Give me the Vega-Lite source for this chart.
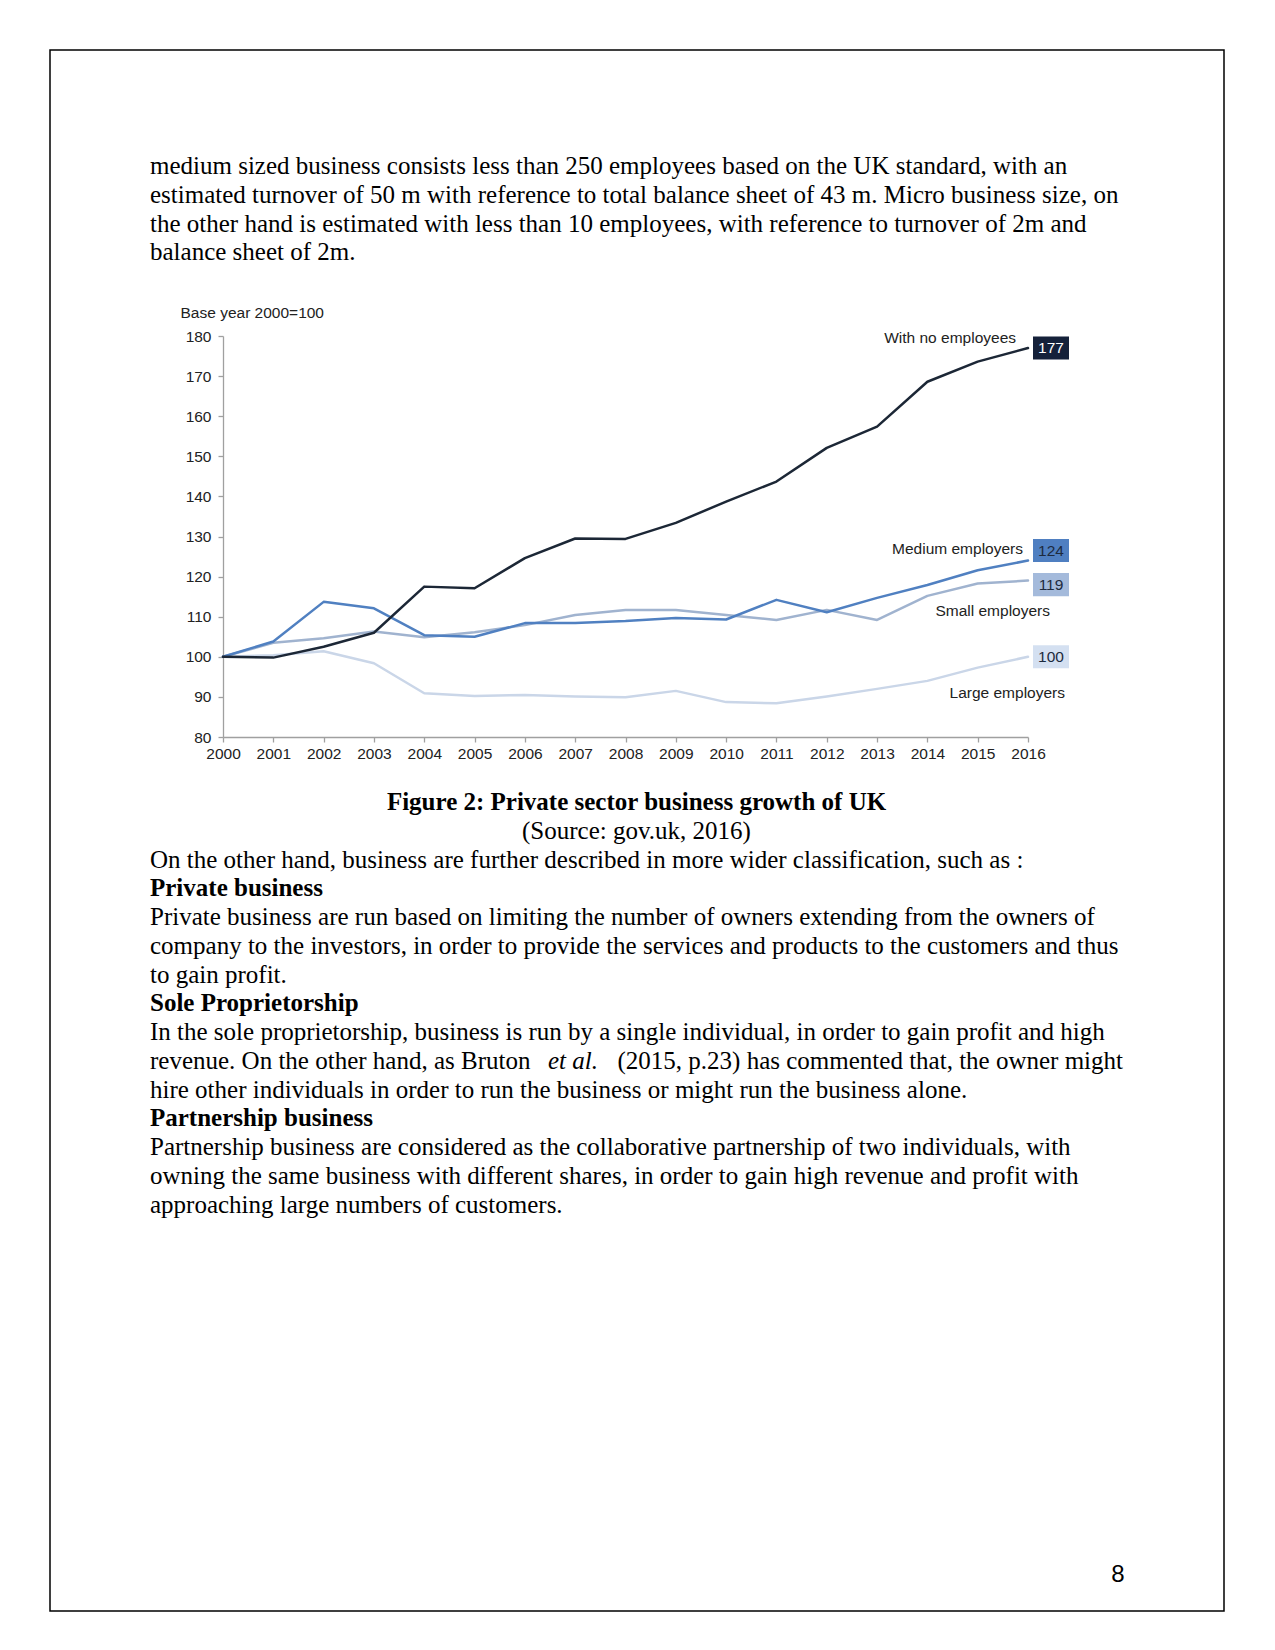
{
  "$schema": "https://vega.github.io/schema/vega-lite/v6.json",
  "width": 1174,
  "height": 1561,
  "autosize": "none",
  "padding": {"left": 50, "top": 50, "right": 51, "bottom": 39},
  "background": "white",
  "config": {"view": {"stroke": "#000000", "strokeWidth": 1.5}},
  "datasets": {
    "growth": [
      {"year": 2000, "series": "large", "value": 100},
      {"year": 2001, "series": "large", "value": 100.4},
      {"year": 2002, "series": "large", "value": 101.4},
      {"year": 2003, "series": "large", "value": 98.4},
      {"year": 2004, "series": "large", "value": 90.9},
      {"year": 2005, "series": "large", "value": 90.2},
      {"year": 2006, "series": "large", "value": 90.5},
      {"year": 2007, "series": "large", "value": 90.1},
      {"year": 2008, "series": "large", "value": 89.9},
      {"year": 2009, "series": "large", "value": 91.5},
      {"year": 2010, "series": "large", "value": 88.7},
      {"year": 2011, "series": "large", "value": 88.4},
      {"year": 2012, "series": "large", "value": 90.1},
      {"year": 2013, "series": "large", "value": 92.0},
      {"year": 2014, "series": "large", "value": 94.0},
      {"year": 2015, "series": "large", "value": 97.3},
      {"year": 2016, "series": "large", "value": 100},
      {"year": 2000, "series": "small", "value": 100},
      {"year": 2001, "series": "small", "value": 103.5},
      {"year": 2002, "series": "small", "value": 104.6},
      {"year": 2003, "series": "small", "value": 106.3},
      {"year": 2004, "series": "small", "value": 104.9},
      {"year": 2005, "series": "small", "value": 106.1},
      {"year": 2006, "series": "small", "value": 107.9},
      {"year": 2007, "series": "small", "value": 110.4},
      {"year": 2008, "series": "small", "value": 111.7},
      {"year": 2009, "series": "small", "value": 111.7},
      {"year": 2010, "series": "small", "value": 110.4},
      {"year": 2011, "series": "small", "value": 109.2},
      {"year": 2012, "series": "small", "value": 111.7},
      {"year": 2013, "series": "small", "value": 109.2},
      {"year": 2014, "series": "small", "value": 115.2},
      {"year": 2015, "series": "small", "value": 118.3},
      {"year": 2016, "series": "small", "value": 119},
      {"year": 2000, "series": "medium", "value": 100},
      {"year": 2001, "series": "medium", "value": 103.8},
      {"year": 2002, "series": "medium", "value": 113.7},
      {"year": 2003, "series": "medium", "value": 112.1},
      {"year": 2004, "series": "medium", "value": 105.4},
      {"year": 2005, "series": "medium", "value": 105.0},
      {"year": 2006, "series": "medium", "value": 108.4},
      {"year": 2007, "series": "medium", "value": 108.4},
      {"year": 2008, "series": "medium", "value": 108.9},
      {"year": 2009, "series": "medium", "value": 109.7},
      {"year": 2010, "series": "medium", "value": 109.3},
      {"year": 2011, "series": "medium", "value": 114.2},
      {"year": 2012, "series": "medium", "value": 111.1},
      {"year": 2013, "series": "medium", "value": 114.7},
      {"year": 2014, "series": "medium", "value": 117.9},
      {"year": 2015, "series": "medium", "value": 121.6},
      {"year": 2016, "series": "medium", "value": 124},
      {"year": 2000, "series": "none", "value": 100},
      {"year": 2001, "series": "none", "value": 99.8},
      {"year": 2002, "series": "none", "value": 102.5},
      {"year": 2003, "series": "none", "value": 106.0},
      {"year": 2004, "series": "none", "value": 117.5},
      {"year": 2005, "series": "none", "value": 117.1},
      {"year": 2006, "series": "none", "value": 124.6},
      {"year": 2007, "series": "none", "value": 129.5},
      {"year": 2008, "series": "none", "value": 129.4},
      {"year": 2009, "series": "none", "value": 133.4},
      {"year": 2010, "series": "none", "value": 138.7},
      {"year": 2011, "series": "none", "value": 143.7},
      {"year": 2012, "series": "none", "value": 152.1},
      {"year": 2013, "series": "none", "value": 157.4},
      {"year": 2014, "series": "none", "value": 168.6},
      {"year": 2015, "series": "none", "value": 173.6},
      {"year": 2016, "series": "none", "value": 177}
    ],
    "names": [
      {"series": "none", "name": "With no employees"},
      {"series": "medium", "name": "Medium employers"},
      {"series": "small", "name": "Small employers"},
      {"series": "large", "name": "Large employers"}
    ],
    "top": [
      {"line": 1, "text": "medium sized business consists less than 250 employees based on the UK standard, with an"},
      {"line": 2, "text": "estimated turnover of 50 m with reference to total balance sheet of 43 m. Micro business size, on"},
      {"line": 3, "text": "the other hand is estimated with less than 10 employees, with reference to turnover of 2m and"},
      {"line": 4, "text": "balance sheet of 2m."}
    ],
    "bottom": [
      {"line": 1, "kind": "figure", "text": "Figure 2: Private sector business growth of UK"},
      {"line": 2, "kind": "source", "text": "(Source: gov.uk, 2016)"},
      {"line": 3, "kind": "para", "text": "On the other hand, business are further described in more wider classification, such as :"},
      {"line": 4, "kind": "heading", "text": "Private business"},
      {"line": 5, "kind": "para", "text": "Private business are run based on limiting the number of owners extending from the owners of"},
      {"line": 6, "kind": "para", "text": "company to the investors, in order to provide the services and products to the customers and thus"},
      {"line": 7, "kind": "para", "text": "to gain profit."},
      {"line": 8, "kind": "heading", "text": "Sole Proprietorship"},
      {"line": 9, "kind": "para", "text": "In the sole proprietorship, business is run by a single individual, in order to gain profit and high"},
      {"line": 10, "kind": "para", "text": "revenue. On the other hand, as Bruton"},
      {"line": 10, "kind": "italic", "text": "et al."},
      {"line": 10, "kind": "tail", "text": "(2015, p.23) has commented that, the owner might"},
      {"line": 11, "kind": "para", "text": "hire other individuals in order to run the business or might run the business alone."},
      {"line": 12, "kind": "heading", "text": "Partnership business"},
      {"line": 13, "kind": "para", "text": "Partnership business are considered as the collaborative partnership of two individuals, with"},
      {"line": 14, "kind": "para", "text": "owning the same business with different shares, in order to gain high revenue and profit with"},
      {"line": 15, "kind": "para", "text": "approaching large numbers of customers."}
    ],
    "page": [{"number": "8"}]
  },
  "layer": [
    {
      "data": {"name": "growth"},
      "mark": {"type": "line", "strokeJoin": "round", "strokeCap": "round"},
      "encoding": {
        "x": {"field": "year", "type": "quantitative",
          "scale": {"domain": [2000, 2016], "range": [173, 978], "nice": false, "zero": false},
          "axis": {"values": [2000,2001,2002,2003,2004,2005,2006,2007,2008,2009,2010,2011,2012,2013,2014,2015,2016],
            "format": "d", "offset": -874, "title": null, "grid": false,
            "domainColor": "#a0a0a0", "tickColor": "#a0a0a0", "tickSize": 5, "domainWidth": 1.3, "tickWidth": 1.3,
            "labelFont": "Liberation Sans", "labelFontSize": 15.5, "labelColor": "#222222", "labelPadding": 4,
            "labelOverlap": false, "labelFlush": false}},
        "y": {"field": "value", "type": "quantitative",
          "scale": {"domain": [80, 180], "range": [687, 286], "nice": false, "zero": false},
          "axis": {"values": [80,90,100,110,120,130,140,150,160,170,180],
            "offset": -173, "grid": false,
            "domainColor": "#a0a0a0", "tickColor": "#a0a0a0", "tickSize": 5, "domainWidth": 1.3, "tickWidth": 1.3,
            "labelFont": "Liberation Sans", "labelFontSize": 15.5, "labelColor": "#222222", "labelPadding": 7,
            "labelOverlap": false, "labelFlush": false,
            "title": "Base year 2000=100", "titleAngle": 0, "titleAlign": "left", "titleBaseline": "middle",
            "titleX": -43, "titleY": 262, "titleFont": "Liberation Sans", "titleFontSize": 15.5,
            "titleFontWeight": "normal", "titleColor": "#222222"}},
        "color": {"field": "series", "type": "nominal",
          "scale": {"domain": ["large", "small", "medium", "none"], "range": ["#cad6e8", "#a0b3cf", "#5080c1", "#1c2736"]},
          "legend": null},
        "strokeWidth": {"field": "series", "type": "ordinal",
          "scale": {"domain": ["large", "small", "medium", "none"], "range": [2.5, 2.5, 2.7, 3.2]},
          "legend": null}
      }
    },
    {
      "data": {"name": "growth"},
      "transform": [{"filter": "datum.year === 2016 && datum.series !== 'medium' && datum.series !== 'small'"}],
      "mark": {"type": "point", "filled": true, "opacity": 1, "size": 1296, "strokeWidth": 0, "xOffset": 23,
        "shape": "M-1,-0.64L1,-0.64L1,0.64L-1,0.64Z"},
      "encoding": {
        "x": {"field": "year", "type": "quantitative", "scale": {"domain": [2000, 2016], "range": [173, 978], "nice": false, "zero": false}, "axis": null},
        "y": {"field": "value", "type": "quantitative", "scale": {"domain": [80, 180], "range": [687, 286], "nice": false, "zero": false}, "axis": null},
        "color": {"field": "series", "type": "nominal",
          "scale": {"domain": ["large", "small", "medium", "none"], "range": ["#d4e0f1", "#a4badb", "#4f7fc1", "#15213a"]},
          "legend": null}
      }
    },
    {
      "data": {"name": "growth"},
      "transform": [{"filter": "datum.year === 2016 && datum.series === 'medium'"}],
      "mark": {"type": "point", "filled": true, "opacity": 1, "size": 1296, "strokeWidth": 0, "xOffset": 23, "yOffset": -10,
        "shape": "M-1,-0.64L1,-0.64L1,0.64L-1,0.64Z"},
      "encoding": {
        "x": {"field": "year", "type": "quantitative", "scale": {"domain": [2000, 2016], "range": [173, 978], "nice": false, "zero": false}, "axis": null},
        "y": {"field": "value", "type": "quantitative", "scale": {"domain": [80, 180], "range": [687, 286], "nice": false, "zero": false}, "axis": null},
        "color": {"field": "series", "type": "nominal",
          "scale": {"domain": ["large", "small", "medium", "none"], "range": ["#d4e0f1", "#a4badb", "#4f7fc1", "#15213a"]},
          "legend": null}
      }
    },
    {
      "data": {"name": "growth"},
      "transform": [{"filter": "datum.year === 2016 && datum.series === 'small'"}],
      "mark": {"type": "point", "filled": true, "opacity": 1, "size": 1296, "strokeWidth": 0, "xOffset": 23, "yOffset": 4,
        "shape": "M-1,-0.64L1,-0.64L1,0.64L-1,0.64Z"},
      "encoding": {
        "x": {"field": "year", "type": "quantitative", "scale": {"domain": [2000, 2016], "range": [173, 978], "nice": false, "zero": false}, "axis": null},
        "y": {"field": "value", "type": "quantitative", "scale": {"domain": [80, 180], "range": [687, 286], "nice": false, "zero": false}, "axis": null},
        "color": {"field": "series", "type": "nominal",
          "scale": {"domain": ["large", "small", "medium", "none"], "range": ["#d4e0f1", "#a4badb", "#4f7fc1", "#15213a"]},
          "legend": null}
      }
    },
    {
      "data": {"name": "growth"},
      "transform": [{"filter": "datum.year === 2016 && datum.series !== 'medium' && datum.series !== 'small'"}],
      "mark": {"type": "text", "dx": 23, "align": "center", "baseline": "middle", "font": "Liberation Sans", "fontSize": 15.5},
      "encoding": {
        "x": {"field": "year", "type": "quantitative", "scale": {"domain": [2000, 2016], "range": [173, 978], "nice": false, "zero": false}, "axis": null},
        "y": {"field": "value", "type": "quantitative", "scale": {"domain": [80, 180], "range": [687, 286], "nice": false, "zero": false}, "axis": null},
        "text": {"field": "value", "type": "quantitative", "format": "d"},
        "color": {"condition": {"test": "datum.series === 'none'", "value": "#ffffff"}, "value": "#1d2a3e"}
      }
    },
    {
      "data": {"name": "growth"},
      "transform": [{"filter": "datum.year === 2016 && datum.series === 'medium'"}],
      "mark": {"type": "text", "dx": 23, "dy": -10, "align": "center", "baseline": "middle", "font": "Liberation Sans", "fontSize": 15.5, "color": "#1d2a3e"},
      "encoding": {
        "x": {"field": "year", "type": "quantitative", "scale": {"domain": [2000, 2016], "range": [173, 978], "nice": false, "zero": false}, "axis": null},
        "y": {"field": "value", "type": "quantitative", "scale": {"domain": [80, 180], "range": [687, 286], "nice": false, "zero": false}, "axis": null},
        "text": {"field": "value", "type": "quantitative", "format": "d"}
      }
    },
    {
      "data": {"name": "growth"},
      "transform": [{"filter": "datum.year === 2016 && datum.series === 'small'"}],
      "mark": {"type": "text", "dx": 23, "dy": 4, "align": "center", "baseline": "middle", "font": "Liberation Sans", "fontSize": 15.5, "color": "#1d2a3e"},
      "encoding": {
        "x": {"field": "year", "type": "quantitative", "scale": {"domain": [2000, 2016], "range": [173, 978], "nice": false, "zero": false}, "axis": null},
        "y": {"field": "value", "type": "quantitative", "scale": {"domain": [80, 180], "range": [687, 286], "nice": false, "zero": false}, "axis": null},
        "text": {"field": "value", "type": "quantitative", "format": "d"}
      }
    },
    {
      "data": {"name": "growth"},
      "transform": [{"filter": "datum.year === 2016"}, {"lookup": "series", "from": {"data": {"name": "names"}, "key": "series", "fields": ["name"]}}, {"filter": "datum.series === 'none'"}],
      "mark": {"type": "text", "dx": -12, "dy": -10, "align": "right", "baseline": "middle", "font": "Liberation Sans", "fontSize": 15.5, "color": "#222222"},
      "encoding": {
        "x": {"field": "year", "type": "quantitative", "scale": {"domain": [2000, 2016], "range": [173, 978], "nice": false, "zero": false}, "axis": null},
        "y": {"field": "value", "type": "quantitative", "scale": {"domain": [80, 180], "range": [687, 286], "nice": false, "zero": false}, "axis": null},
        "text": {"field": "name"}
      }
    },
    {
      "data": {"name": "growth"},
      "transform": [{"filter": "datum.year === 2016"}, {"lookup": "series", "from": {"data": {"name": "names"}, "key": "series", "fields": ["name"]}}, {"filter": "datum.series === 'medium'"}],
      "mark": {"type": "text", "dx": -5, "dy": -12, "align": "right", "baseline": "middle", "font": "Liberation Sans", "fontSize": 15.5, "color": "#222222"},
      "encoding": {
        "x": {"field": "year", "type": "quantitative", "scale": {"domain": [2000, 2016], "range": [173, 978], "nice": false, "zero": false}, "axis": null},
        "y": {"field": "value", "type": "quantitative", "scale": {"domain": [80, 180], "range": [687, 286], "nice": false, "zero": false}, "axis": null},
        "text": {"field": "name"}
      }
    },
    {
      "data": {"name": "growth"},
      "transform": [{"filter": "datum.year === 2016"}, {"lookup": "series", "from": {"data": {"name": "names"}, "key": "series", "fields": ["name"]}}, {"filter": "datum.series === 'small'"}],
      "mark": {"type": "text", "dx": 22, "dy": 30, "align": "right", "baseline": "middle", "font": "Liberation Sans", "fontSize": 15.5, "color": "#222222"},
      "encoding": {
        "x": {"field": "year", "type": "quantitative", "scale": {"domain": [2000, 2016], "range": [173, 978], "nice": false, "zero": false}, "axis": null},
        "y": {"field": "value", "type": "quantitative", "scale": {"domain": [80, 180], "range": [687, 286], "nice": false, "zero": false}, "axis": null},
        "text": {"field": "name"}
      }
    },
    {
      "data": {"name": "growth"},
      "transform": [{"filter": "datum.year === 2016"}, {"lookup": "series", "from": {"data": {"name": "names"}, "key": "series", "fields": ["name"]}}, {"filter": "datum.series === 'large'"}],
      "mark": {"type": "text", "dx": 37, "dy": 36, "align": "right", "baseline": "middle", "font": "Liberation Sans", "fontSize": 15.5, "color": "#222222"},
      "encoding": {
        "x": {"field": "year", "type": "quantitative", "scale": {"domain": [2000, 2016], "range": [173, 978], "nice": false, "zero": false}, "axis": null},
        "y": {"field": "value", "type": "quantitative", "scale": {"domain": [80, 180], "range": [687, 286], "nice": false, "zero": false}, "axis": null},
        "text": {"field": "name"}
      }
    },
    {
      "data": {"name": "top"},
      "mark": {"type": "text", "align": "left", "baseline": "alphabetic", "font": "Liberation Serif", "fontSize": 25, "color": "#000000"},
      "encoding": {
        "x": {"datum": 0, "type": "quantitative", "scale": {"domain": [0, 1], "range": [100, 1073]}, "axis": null},
        "y": {"field": "line", "type": "quantitative", "scale": {"domain": [1, 4], "range": [124, 210.25], "nice": false, "zero": false}, "axis": null},
        "text": {"field": "text"}
      }
    },
    {
      "data": {"name": "bottom"},
      "transform": [{"filter": "datum.kind === 'para'"}],
      "mark": {"type": "text", "align": "left", "baseline": "alphabetic", "font": "Liberation Serif", "fontSize": 25, "color": "#000000"},
      "encoding": {
        "x": {"datum": 0, "type": "quantitative", "scale": {"domain": [0, 1], "range": [100, 1073]}, "axis": null},
        "y": {"field": "line", "type": "quantitative", "scale": {"domain": [1, 15], "range": [760, 1162.5], "nice": false, "zero": false}, "axis": null},
        "text": {"field": "text"}
      }
    },
    {
      "data": {"name": "bottom"},
      "transform": [{"filter": "datum.kind === 'italic'"}],
      "mark": {"type": "text", "align": "left", "baseline": "alphabetic", "font": "Liberation Serif", "fontSize": 25, "fontStyle": "italic", "color": "#000000"},
      "encoding": {
        "x": {"datum": 0.409, "type": "quantitative", "scale": {"domain": [0, 1], "range": [100, 1073]}, "axis": null},
        "y": {"field": "line", "type": "quantitative", "scale": {"domain": [1, 15], "range": [760, 1162.5], "nice": false, "zero": false}, "axis": null},
        "text": {"field": "text"}
      }
    },
    {
      "data": {"name": "bottom"},
      "transform": [{"filter": "datum.kind === 'tail'"}],
      "mark": {"type": "text", "align": "right", "baseline": "alphabetic", "font": "Liberation Serif", "fontSize": 25, "color": "#000000"},
      "encoding": {
        "x": {"datum": 1, "type": "quantitative", "scale": {"domain": [0, 1], "range": [100, 1073]}, "axis": null},
        "y": {"field": "line", "type": "quantitative", "scale": {"domain": [1, 15], "range": [760, 1162.5], "nice": false, "zero": false}, "axis": null},
        "text": {"field": "text"}
      }
    },
    {
      "data": {"name": "bottom"},
      "transform": [{"filter": "datum.kind === 'heading'"}],
      "mark": {"type": "text", "align": "left", "baseline": "alphabetic", "font": "Liberation Serif", "fontSize": 25, "fontWeight": "bold", "color": "#000000"},
      "encoding": {
        "x": {"datum": 0, "type": "quantitative", "scale": {"domain": [0, 1], "range": [100, 1073]}, "axis": null},
        "y": {"field": "line", "type": "quantitative", "scale": {"domain": [1, 15], "range": [760, 1162.5], "nice": false, "zero": false}, "axis": null},
        "text": {"field": "text"}
      }
    },
    {
      "data": {"name": "bottom"},
      "transform": [{"filter": "datum.kind === 'figure'"}],
      "mark": {"type": "text", "align": "center", "baseline": "alphabetic", "font": "Liberation Serif", "fontSize": 25, "fontWeight": "bold", "color": "#000000"},
      "encoding": {
        "x": {"datum": 0.5, "type": "quantitative", "scale": {"domain": [0, 1], "range": [100, 1073]}, "axis": null},
        "y": {"field": "line", "type": "quantitative", "scale": {"domain": [1, 15], "range": [760, 1162.5], "nice": false, "zero": false}, "axis": null},
        "text": {"field": "text"}
      }
    },
    {
      "data": {"name": "bottom"},
      "transform": [{"filter": "datum.kind === 'source'"}],
      "mark": {"type": "text", "align": "center", "baseline": "alphabetic", "font": "Liberation Serif", "fontSize": 25, "color": "#000000"},
      "encoding": {
        "x": {"datum": 0.5, "type": "quantitative", "scale": {"domain": [0, 1], "range": [100, 1073]}, "axis": null},
        "y": {"field": "line", "type": "quantitative", "scale": {"domain": [1, 15], "range": [760, 1162.5], "nice": false, "zero": false}, "axis": null},
        "text": {"field": "text"}
      }
    },
    {
      "data": {"name": "page"},
      "mark": {"type": "text", "align": "center", "baseline": "alphabetic", "font": "Liberation Sans", "fontSize": 24, "color": "#000000"},
      "encoding": {
        "x": {"datum": 1, "type": "quantitative", "scale": {"domain": [0, 1], "range": [0, 1068]}, "axis": null},
        "y": {"datum": 1, "type": "quantitative", "scale": {"domain": [0, 1], "range": [0, 1532]}, "axis": null},
        "text": {"field": "number"}
      }
    }
  ],
  "resolve": {"scale": {"x": "independent", "y": "independent", "color": "independent", "strokeWidth": "independent"}}
}
